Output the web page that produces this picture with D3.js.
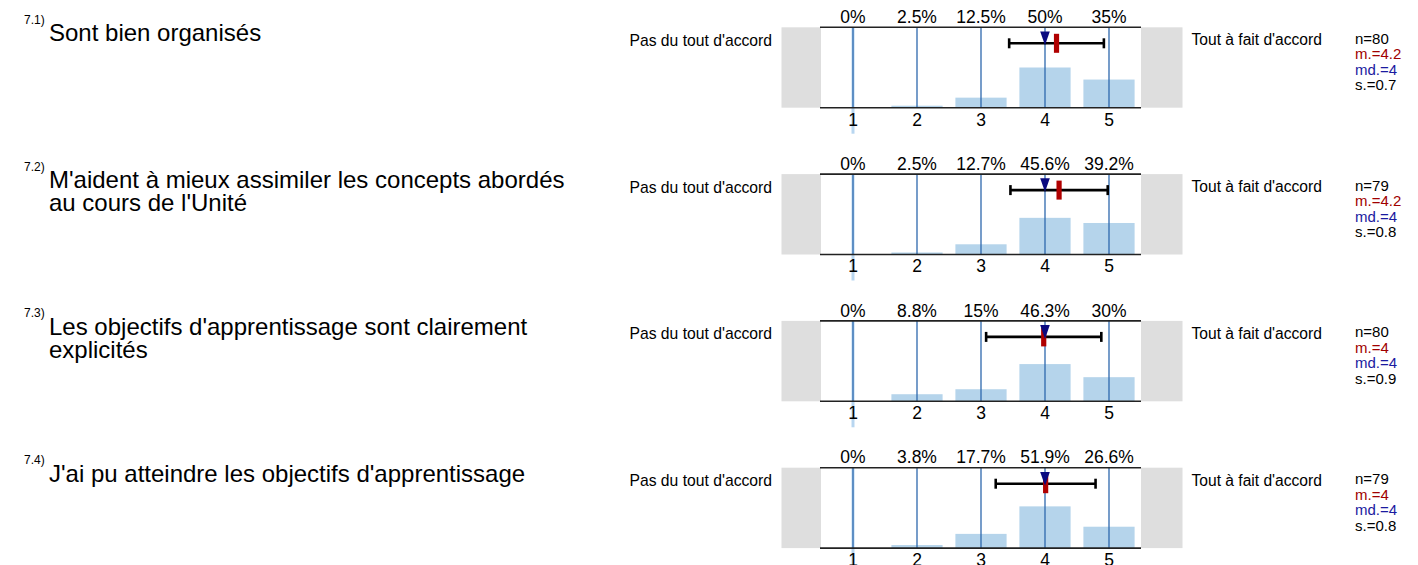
<!DOCTYPE html>
<html>
<head>
<meta charset="utf-8">
<script src="https://cdn.jsdelivr.net/npm/d3@7"></script>
<style>
  html, body { margin: 0; padding: 0; background: #fff; }
  svg { display: block; font-family: "Liberation Sans", Arial, sans-serif; }
</style>
</head>
<body>
<svg id="chart" width="1418" height="565"></svg>
<script>
// ---- data ----
const itemNumbers = ["7.1)", "7.2)", "7.3)", "7.4)"];
const itemTitles = [
  ["Sont bien organisés"],
  ["M'aident à mieux assimiler les concepts abordés", "au cours de l'Unité"],
  ["Les objectifs d'apprentissage sont clairement", "explicités"],
  ["J'ai pu atteindre les objectifs d'apprentissage"]
];
const scaleValues = [1, 2, 3, 4, 5];
const leftPole = "Pas du tout d'accord";
const rightPole = "Tout à fait d'accord";
const pct1 = [0, 2.5, 12.5, 50, 35];
const pct2 = [0, 2.5, 12.7, 45.6, 39.2];
const pct3 = [0, 8.8, 15, 46.3, 30];
const pct4 = [0, 3.8, 17.7, 51.9, 26.6];
const nValues = [80, 79, 80, 79];
const meanValues = [4.18, 4.22, 3.98, 4.01];
const medianValues = [4, 4, 4, 4];
const sdValues = [0.74, 0.76, 0.90, 0.78];

const percentages = [pct1, pct2, pct3, pct4];

// ---- layout ----
const svg = d3.select("#chart");
const plotX0 = 821, plotX1 = 1141;
const plotH = 80.4;
const firstTop = 27.3, panelStep = 146.8;
const fmt1 = v => String(+(+v).toFixed(1));

const xBand = d3.scaleBand().domain(scaleValues).range([plotX0, plotX1])
  .paddingInner(0.2).paddingOuter(0.1);
const xLin = d3.scaleLinear().domain([0.5, 5.5]).range([plotX0, plotX1]);
const yPct = d3.scaleLinear().domain([0, 100]).range([plotH, 0]);
const cx = v => xBand(v) + xBand.bandwidth() / 2;

percentages.forEach((pct, i) => {
  const top = firstTop + i * panelStep;
  const g = svg.append("g").attr("transform", `translate(0,${top})`);

  // question number + title
  g.append("text").attr("x", 24).attr("y", -3.5)
    .attr("font-size", 12).attr("fill", "#000").text(itemNumbers[i]);
  itemTitles[i].forEach((line, k) => {
    g.append("text").attr("x", 49).attr("y", 14 + k * 23)
      .attr("font-size", 24).attr("fill", "#000").text(line);
  });

  // pole labels
  g.append("text").attr("x", 772).attr("y", 18.6).attr("text-anchor", "end")
    .attr("font-size", 15.7).text(leftPole);
  g.append("text").attr("x", 1191.5).attr("y", 18.2)
    .attr("font-size", 15.6).text(rightPole);

  // grey side boxes
  g.append("rect").attr("x", 781.5).attr("y", 0).attr("width", plotX0 - 781.5)
    .attr("height", plotH).attr("fill", "#dedede");
  g.append("rect").attr("x", plotX1).attr("y", 0).attr("width", 1182.5 - plotX1)
    .attr("height", plotH).attr("fill", "#dedede");

  // light blue stroke below category 1
  g.append("line").attr("x1", cx(1)).attr("x2", cx(1))
    .attr("y1", 0).attr("y2", plotH + 26)
    .attr("stroke", "#b8d6f0").attr("stroke-width", 3);

  // bars
  g.selectAll("rect.bar").data(scaleValues.map((v, j) => ({v, p: pct[j]})))
    .join("rect").attr("class", "bar")
    .attr("x", d => xBand(d.v)).attr("width", xBand.bandwidth())
    .attr("y", d => yPct(d.p)).attr("height", d => plotH - yPct(d.p))
    .attr("fill", "#b5d4eb");

  // vertical scale lines
  g.selectAll("line.vl").data(scaleValues).join("line").attr("class", "vl")
    .attr("x1", d => cx(d)).attr("x2", d => cx(d))
    .attr("y1", 0).attr("y2", plotH)
    .attr("stroke", "#2d68ad").attr("stroke-width", 1.3);

  // top/bottom rules
  [0, plotH].forEach(y => {
    g.append("line").attr("x1", plotX0 - 1).attr("x2", plotX1)
      .attr("y1", y).attr("y2", y).attr("stroke", "#222").attr("stroke-width", 1.6);
  });

  // percentage labels
  g.selectAll("text.pct").data(scaleValues.map((v, j) => ({v, p: pct[j]})))
    .join("text").attr("class", "pct")
    .attr("x", d => cx(d.v)).attr("y", -4.4).attr("text-anchor", "middle")
    .attr("font-size", 17.5).text(d => fmt1(d.p) + "%");

  // tick labels
  g.selectAll("text.tick").data(scaleValues).join("text").attr("class", "tick")
    .attr("x", d => cx(d)).attr("y", plotH + 18).attr("text-anchor", "middle")
    .attr("font-size", 17.5).text(d => d);

  // sd bar
  const m = meanValues[i], s = sdValues[i];
  const ey = 16;
  const xl = xLin(m - s), xr = xLin(m + s);
  g.append("line").attr("x1", xl).attr("x2", xr).attr("y1", ey).attr("y2", ey)
    .attr("stroke", "#000").attr("stroke-width", 2.6);
  [xl, xr].forEach(x => {
    g.append("line").attr("x1", x).attr("x2", x).attr("y1", ey - 5).attr("y2", ey + 5)
      .attr("stroke", "#000").attr("stroke-width", 2.6);
  });

  // mean marker
  g.append("rect").attr("x", xLin(m) - 2.6).attr("y", ey - 9.5)
    .attr("width", 5.2).attr("height", 19).attr("fill", "#b00000");

  // median triangle
  const mx = xLin(medianValues[i]);
  g.append("path")
    .attr("d", `M${mx - 4.8},${4.2} L${mx + 4.8},${4.2} L${mx},${18} Z`)
    .attr("fill", "#0a0a80");

  // stats
  const stats = [
    {t: "n=" + nValues[i], c: "#000"},
    {t: "m.=" + fmt1(m), c: "#a00000"},
    {t: "md.=" + fmt1(medianValues[i]), c: "#1a1aa0"},
    {t: "s.=" + fmt1(s), c: "#000"}
  ];
  stats.forEach((st, k) => {
    g.append("text").attr("x", 1355).attr("y", 16.6 + k * 15.5)
      .attr("font-size", 15).attr("fill", st.c).text(st.t);
  });
});
</script>
</body>
</html>
